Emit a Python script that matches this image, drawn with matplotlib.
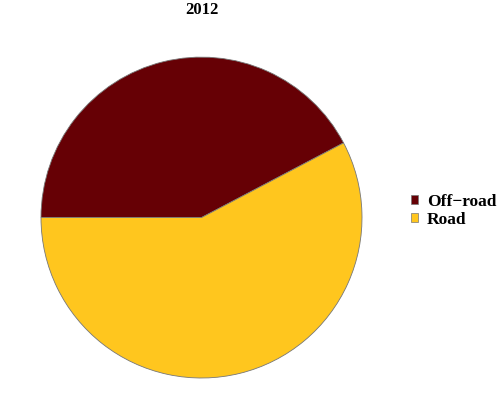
import matplotlib.pyplot as plt
from matplotlib.patches import Patch

labels = ["Off\u2212road", "Road"]
shares = [42.3, 57.7]
colors = ["#660005", "#FFC61E"]

plt.rcParams['font.family'] = ['Liberation Serif', 'DejaVu Serif']

fig = plt.figure(figsize=(5, 4.2), dpi=100)
ax = fig.add_axes([0.082, 0.1, 0.642, 0.764])
ax.pie(shares, colors=colors, startangle=180, counterclock=False, radius=1,
       wedgeprops=dict(edgecolor="#777777", linewidth=0.6))
ax.set_xlim(-1, 1)
ax.set_ylim(-1, 1)
ax.set_aspect('auto')

fig.text(0.403, 0.976, "2012", ha='center', va='center', fontsize=12, fontweight='bold')

handles = [Patch(facecolor=c, edgecolor="#777777", linewidth=0.5) for c in colors]
fig.legend(handles, labels, loc='center left', bbox_to_anchor=(0.79, 0.498),
           frameon=False, prop=dict(size=12.5, weight='bold'),
           handlelength=0.45, handleheight=0.45, handletextpad=0.5, labelspacing=0.1)

fig.savefig("out.png", dpi=100)
